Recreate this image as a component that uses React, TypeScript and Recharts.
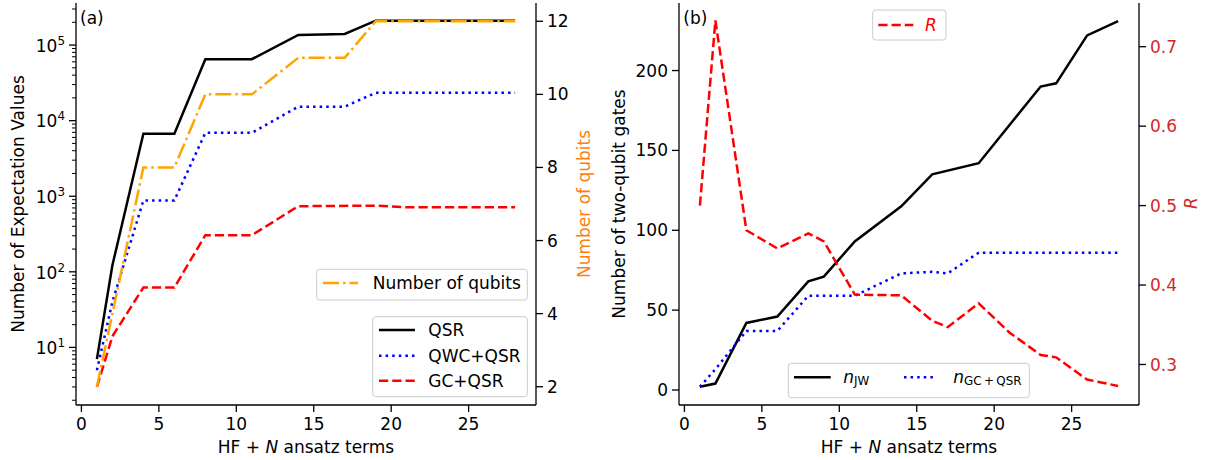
import { LineChart, Line, XAxis, YAxis } from "recharts";

const FONT = "DejaVu Sans";
const FS = 17;

// panel (a): number of expectation values vs HF + N ansatz terms
const qsrTerms = [1, 2, 4, 6, 8, 11, 14, 17, 19, 28];
const qsrCounts = [7, 122, 6700, 6700, 65000, 65000, 136000, 140000, 210000, 210000];
const qwcTerms = [1, 2, 4, 6, 8, 11, 14, 17, 19, 28];
const qwcCounts = [5, 40, 880, 880, 6900, 6900, 15300, 15300, 23400, 23400];
const gcTerms = [1, 2, 4, 6, 8, 11, 14, 19, 21, 28];
const gcCounts = [3, 14, 62, 62, 305, 305, 738, 750, 715, 715];
const qubitTerms = [1, 2, 3, 4, 6, 8, 11, 14, 17, 19, 28];
const qubitCounts = [2, 4, 6, 8, 8, 10, 10, 11, 11, 12, 12];

// panel (b): two-qubit gates and ratio R
const jwTerms = [1, 2, 4, 6, 8, 9, 11, 14, 16, 19, 23, 24, 26, 28];
const jwGates = [2, 4, 42, 46, 68, 71, 93, 115, 135, 142, 190, 192, 222, 231];
const gcqTerms = [1, 2, 4, 6, 8, 11, 14, 16, 17, 19, 28];
const gcqGates = [2, 13, 37, 37, 59, 59, 73, 74, 73, 86, 86];
const ratioTerms = [1, 2, 4, 6, 8, 9, 11, 14, 16, 17, 19, 21, 23, 24, 26, 28];
const ratioValues = [0.5, 0.733, 0.469, 0.446, 0.465, 0.455, 0.388, 0.387, 0.355, 0.347, 0.377, 0.34, 0.312, 0.309, 0.281, 0.273];

// ticks
const xTicks = [0, 5, 10, 15, 20, 25];
const logMajorTicks = [1e1, 1e2, 1e3, 1e4, 1e5];
const logMinorMultipliers = [2, 3, 4, 5, 6, 7, 8, 9];
const logDecades = [1, 10, 100, 1000, 10000, 100000];
const qubitTicks = [2, 4, 6, 8, 10, 12];
const gateTicks = [0, 50, 100, 150, 200];
const ratioTicks = [0.3, 0.4, 0.5, 0.6, 0.7];

const X_DOMAIN: [number, number] = [-0.35, 29.35];
const LOG_DOMAIN: [number, number] = [1.73, 3.6e5];

const toPoints = (xs: number[], ys: number[]) => xs.map((x, i) => ({ x, y: ys[i] }));

const logTicks = [
  ...logMajorTicks,
  ...logDecades.flatMap((d) => logMinorMultipliers.map((m) => m * d)),
]
  .filter((v) => v >= LOG_DOMAIN[0] && v <= LOG_DOMAIN[1])
  .sort((a, b) => a - b);

const tickStyle = { fill: "#000", fontSize: FS, fontFamily: FONT };
const axisStroke = { stroke: "#000", strokeWidth: 1.3 };

const DASHED = "9.25 4";
const DOTTED = "2.5 4.1";
const DASHDOT = "16 4 2.5 4";

const LEFT_PLOT_X = 76;

function LogTick(props: any) {
  const { y, payload } = props;
  const v = payload.value as number;
  const lg = Math.log10(v);
  const exp = Math.round(lg);
  const major = Math.abs(lg - exp) < 1e-6;
  return (
    <g>
      <line
        x1={LEFT_PLOT_X - (major ? 7 : 4)}
        x2={LEFT_PLOT_X}
        y1={y}
        y2={y}
        stroke="#000"
        strokeWidth={major ? 1.3 : 1}
      />
      {major && (
        <text x={LEFT_PLOT_X - 11} y={y + 6.7} textAnchor="end" fill="#000" fontSize={FS} fontFamily={FONT}>
          10
          <tspan dy={-6.9} fontSize={11.9}>
            {exp}
          </tspan>
        </text>
      )}
    </g>
  );
}

function XLabel({ cx }: { cx: number }) {
  return (
    <text x={cx} y={452.7} textAnchor="middle" fill="#000" fontSize={FS} fontFamily={FONT}>
      HF + <tspan fontStyle="italic">N</tspan> ansatz terms
    </text>
  );
}

function VLabel({ x, y, text, color = "#000", italic = false }: { x: number; y: number; text: string; color?: string; italic?: boolean }) {
  return (
    <text
      x={x}
      y={y}
      transform={`rotate(-90 ${x} ${y})`}
      textAnchor="middle"
      fill={color}
      fontSize={FS}
      fontFamily={FONT}
      fontStyle={italic ? "italic" : "normal"}
    >
      {text}
    </text>
  );
}

function LegendBox({ x, y, w, h }: { x: number; y: number; w: number; h: number }) {
  return <rect x={x} y={y} width={w} height={h} rx={3} fill="#fff" fillOpacity={0.8} stroke="#cccccc" strokeWidth={1} />;
}

function Legends() {
  const t = { fontSize: FS, fontFamily: FONT, fill: "#000" };
  return (
    <svg width={1209} height={460} style={{ position: "absolute", left: 0, top: 0, pointerEvents: "none" }}>
      <text x={80} y={23.5} {...t}>(a)</text>
      <text x={683.3} y={23.5} {...t}>(b)</text>

      <LegendBox x={316.7} y={269.3} w={210.6} h={30.7} />
      <line x1={323} x2={358} y1={283} y2={283} stroke="orange" strokeWidth={2.5} strokeDasharray={DASHDOT} />
      <text x={372.7} y={289} {...t}>Number of qubits</text>

      <LegendBox x={372.7} y={316.7} w={154.6} h={80} />
      <line x1={379} x2={415} y1={330} y2={330} stroke="#000" strokeWidth={2.5} />
      <text x={428.3} y={336} {...t}>QSR</text>
      <line x1={379} x2={415} y1={355.7} y2={355.7} stroke="#0000ff" strokeWidth={2.5} strokeDasharray={DOTTED} />
      <text x={428.3} y={361.7} {...t}>QWC+QSR</text>
      <line x1={379} x2={415} y1={380.7} y2={380.7} stroke="#ff0000" strokeWidth={2.5} strokeDasharray={DASHED} />
      <text x={428.3} y={386.7} {...t}>GC+QSR</text>

      <LegendBox x={872.7} y={10} w={73.3} h={30} />
      <line x1={878.3} x2={913.3} y1={25} y2={25} stroke="#ff0000" strokeWidth={2.5} strokeDasharray={DASHED} />
      <text x={925} y={31} {...t} fill="#ff0000" fontStyle="italic">R</text>

      <LegendBox x={788.3} y={363.3} w={241} h={34.4} />
      <line x1={794} x2={830.7} y1={377.3} y2={377.3} stroke="#000" strokeWidth={2.5} />
      <text x={843.3} y={383.3} {...t}>
        <tspan fontStyle="italic">n</tspan>
        <tspan dy={2} fontSize={11.9}>JW</tspan>
      </text>
      <line x1={904} x2={936.7} y1={377.3} y2={377.3} stroke="#0000ff" strokeWidth={2.5} strokeDasharray={DOTTED} />
      <text x={953.3} y={383.3} {...t}>
        <tspan fontStyle="italic">n</tspan>
        <tspan dy={2} fontSize={11.9}>GC{"\u2009"}+{"\u2009"}QSR</tspan>
      </text>
    </svg>
  );
}

function PanelA() {
  return (
    <LineChart width={600} height={460} margin={{ top: 3, right: 4, bottom: 0, left: 16 }}>
      <XAxis
        xAxisId="b"
        dataKey="x"
        type="number"
        domain={X_DOMAIN}
        ticks={xTicks}
        allowDataOverflow
        height={55}
        tickSize={7}
        tickMargin={6}
        tick={tickStyle}
        axisLine={axisStroke}
        tickLine={axisStroke}
        label={() => <XLabel cx={306} />}
      />
      <XAxis xAxisId="t" orientation="top" dataKey="x" type="number" domain={X_DOMAIN} allowDataOverflow height={0} tick={false} tickLine={false} axisLine={axisStroke} />
      <YAxis
        yAxisId="l"
        type="number"
        scale="log"
        domain={LOG_DOMAIN}
        ticks={logTicks}
        allowDataOverflow
        width={60}
        tickLine={false}
        tick={<LogTick />}
        interval={0}
        axisLine={axisStroke}
        label={() => <VLabel x={24} y={204} text="Number of Expectation Values" />}
      />
      <YAxis
        yAxisId="r"
        orientation="right"
        type="number"
        domain={[1.5, 12.5]}
        ticks={qubitTicks}
        allowDataOverflow
        width={60}
        tickSize={7}
        tickMargin={4}
        tick={tickStyle}
        axisLine={axisStroke}
        tickLine={axisStroke}
        label={() => <VLabel x={590} y={204} text="Number of qubits" color="#ff7f0e" />}
      />
      <Line xAxisId="b" yAxisId="l" data={toPoints(qsrTerms, qsrCounts)} dataKey="y" stroke="#000" strokeWidth={2.5} dot={false} isAnimationActive={false} />
      <Line xAxisId="b" yAxisId="l" data={toPoints(qwcTerms, qwcCounts)} dataKey="y" stroke="#0000ff" strokeWidth={2.5} strokeDasharray={DOTTED} dot={false} isAnimationActive={false} />
      <Line xAxisId="b" yAxisId="l" data={toPoints(gcTerms, gcCounts)} dataKey="y" stroke="#ff0000" strokeWidth={2.5} strokeDasharray={DASHED} dot={false} isAnimationActive={false} />
      <Line xAxisId="b" yAxisId="r" data={toPoints(qubitTerms, qubitCounts)} dataKey="y" stroke="orange" strokeWidth={2.5} strokeDasharray={DASHDOT} dot={false} isAnimationActive={false} />
    </LineChart>
  );
}

function PanelB() {
  return (
    <LineChart width={609} height={460} margin={{ top: 3, right: 10, bottom: 0, left: 19 }}>
      <XAxis
        xAxisId="b"
        dataKey="x"
        type="number"
        domain={X_DOMAIN}
        ticks={xTicks}
        allowDataOverflow
        height={55}
        tickSize={7}
        tickMargin={6}
        tick={tickStyle}
        axisLine={axisStroke}
        tickLine={axisStroke}
        label={() => <XLabel cx={309} />}
      />
      <XAxis xAxisId="t" orientation="top" dataKey="x" type="number" domain={X_DOMAIN} allowDataOverflow height={0} tick={false} tickLine={false} axisLine={axisStroke} />
      <YAxis
        yAxisId="l"
        type="number"
        domain={[-9.4, 242.3]}
        ticks={gateTicks}
        allowDataOverflow
        width={60}
        tickSize={7}
        tickMargin={4}
        tick={tickStyle}
        axisLine={axisStroke}
        tickLine={axisStroke}
        label={() => <VLabel x={25} y={204} text="Number of two-qubit gates" />}
      />
      <YAxis
        yAxisId="r"
        orientation="right"
        type="number"
        domain={[0.249, 0.755]}
        ticks={ratioTicks}
        allowDataOverflow
        width={60}
        tickSize={7}
        tickMargin={4}
        tick={{ ...tickStyle, fill: "#d62728" }}
        tickFormatter={(v: number) => v.toFixed(1)}
        axisLine={axisStroke}
        tickLine={axisStroke}
        label={() => <VLabel x={596.7} y={203} text="R" color="#d62728" italic />}
      />
      <Line xAxisId="b" yAxisId="l" data={toPoints(jwTerms, jwGates)} dataKey="y" stroke="#000" strokeWidth={2.5} dot={false} isAnimationActive={false} />
      <Line xAxisId="b" yAxisId="l" data={toPoints(gcqTerms, gcqGates)} dataKey="y" stroke="#0000ff" strokeWidth={2.5} strokeDasharray={DOTTED} dot={false} isAnimationActive={false} />
      <Line xAxisId="b" yAxisId="r" data={toPoints(ratioTerms, ratioValues)} dataKey="y" stroke="#ff0000" strokeWidth={2.5} strokeDasharray={DASHED} dot={false} isAnimationActive={false} />
    </LineChart>
  );
}

export default function App() {
  return (
    <div style={{ position: "absolute", left: 0, top: 0, width: 1209, height: 460, background: "#fff", fontFamily: FONT }}>
      <div style={{ position: "absolute", left: 0, top: 0 }}>
        <PanelA />
      </div>
      <div style={{ position: "absolute", left: 600, top: 0 }}>
        <PanelB />
      </div>
      <Legends />
    </div>
  );
}
